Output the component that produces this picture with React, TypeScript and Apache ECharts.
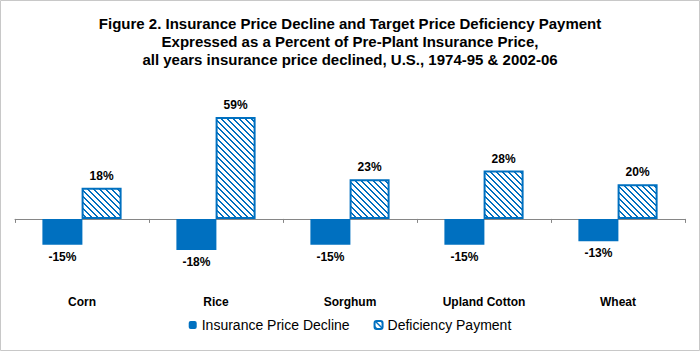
import React, { useEffect, useRef } from "react";
import * as echarts from "echarts";

const categories = ["Corn", "Rice", "Sorghum", "Upland Cotton", "Wheat"];
const insuranceDecline = [-15, -18, -15, -15, -13];
const deficiencyPayment = [18, 59, 23, 28, 20];
const seriesNames = ["Insurance Price Decline", "Deficiency Payment"];
const titleLines = [
  "Figure 2. Insurance Price Decline and Target Price Deficiency Payment",
  "Expressed as a Percent of Pre-Plant Insurance Price,",
  "all years insurance price declined, U.S., 1974-95 & 2002-06",
];

const BLUE = "#0070C0";

function makeHatch(): string {
  const size = 6;
  const c = document.createElement("canvas");
  c.width = size;
  c.height = size;
  const ctx = c.getContext("2d")!;
  ctx.fillStyle = "#ffffff";
  ctx.fillRect(0, 0, size, size);
  ctx.fillStyle = BLUE;
  for (let x = 0; x < size; x++) {
    for (let y = 0; y < size; y++) {
      const d = (((x - y) % size) + size) % size;
      if (d === 0 || d === 1) ctx.fillRect(x, y, 1, 1);
    }
  }
  return c.toDataURL();
}

export default function App() {
  const ref = useRef<HTMLDivElement>(null);
  useEffect(() => {
    document.body.style.margin = "0";
    const chart = echarts.init(ref.current!, null, { renderer: "svg" });
    const hatch = makeHatch();
    const font = "Liberation Sans, Arial, sans-serif";
    chart.setOption({
      animation: false,
      backgroundColor: "#ffffff",
      textStyle: { fontFamily: font },
      title: {
        text: titleLines.join("\n"),
        left: "center",
        top: 9,
        textStyle: {
          fontFamily: font,
          fontSize: 15,
          fontWeight: "bold",
          color: "#000",
          lineHeight: 18,
        },
      },
      graphic: [
        {
          type: "rect",
          shape: { x: 0.5, y: 0.5, width: 699, height: 350 },
          style: { fill: "none", stroke: "#c8c8c8", lineWidth: 1 },
          silent: true,
        },
      ],
      legend: {
        bottom: 14,
        left: "center",
        itemWidth: 8,
        itemHeight: 8,
        itemGap: 24,
        textStyle: { fontFamily: font, fontSize: 14, color: "#000" },
        data: seriesNames,
      },
      grid: { left: 15, right: 15, top: 98, bottom: 63 },
      xAxis: [
        {
          type: "category",
          data: categories,
          axisLine: { onZero: true, lineStyle: { color: "#868686", width: 1 } },
          axisTick: { show: true, length: 4, lineStyle: { color: "#868686" } },
          axisLabel: { show: false },
        },
        {
          type: "category",
          data: categories,
          position: "bottom",
          axisLine: { show: false, onZero: false },
          axisTick: { show: false },
          axisLabel: {
            show: true,
            margin: 8,
            fontFamily: font,
            fontSize: 12,
            fontWeight: "bold",
            color: "#000",
          },
        },
      ],
      yAxis: {
        type: "value",
        min: -40,
        max: 70,
        show: false,
        splitLine: { show: false },
      },
      series: [
        {
          name: seriesNames[0],
          type: "bar",
          xAxisIndex: 0,
          data: insuranceDecline,
          barWidth: 40,
          barGap: "-2%",
          itemStyle: { color: BLUE },
          label: {
            show: true,
            position: "bottom",
            distance: 6,
            formatter: "{c}%",
            fontFamily: font,
            fontSize: 12,
            fontWeight: "bold",
            color: "#000",
          },
        },
        {
          name: seriesNames[1],
          type: "bar",
          xAxisIndex: 0,
          data: deficiencyPayment,
          barWidth: 40,
          itemStyle: {
            color: { image: hatch, repeat: "repeat" },
            borderColor: BLUE,
            borderWidth: 2,
          },
          label: {
            show: true,
            position: "top",
            distance: 6,
            formatter: "{c}%",
            fontFamily: font,
            fontSize: 12,
            fontWeight: "bold",
            color: "#000",
          },
        },
      ],
    });
    return () => chart.dispose();
  }, []);
  return <div ref={ref} style={{ width: 700, height: 351 }} />;
}
